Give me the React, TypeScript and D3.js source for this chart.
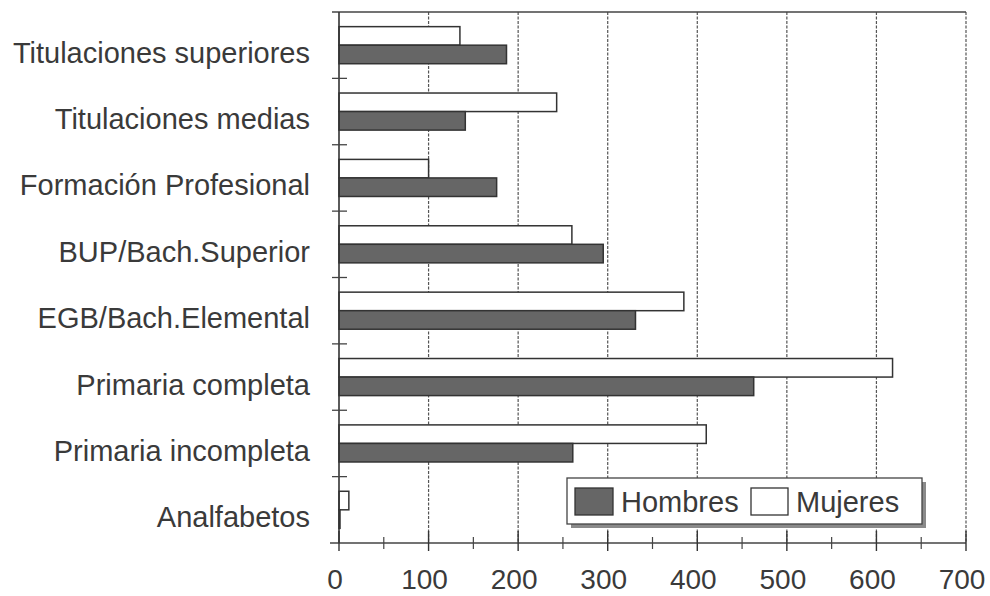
import React from "react";
import * as d3 from "d3";

const categories = [
  "Titulaciones superiores",
  "Titulaciones medias",
  "Formación Profesional",
  "BUP/Bach.Superior",
  "EGB/Bach.Elemental",
  "Primaria completa",
  "Primaria incompleta",
  "Analfabetos",
];
const hombres = [187, 141, 176, 295, 331, 463, 261, 1];
const mujeres = [135, 243, 100, 260, 385, 618, 410, 11];
const seriesNames = ["Mujeres", "Hombres"];
const xTicks = [0, 100, 200, 300, 400, 500, 600, 700];
const xMinorTicks = [50, 150, 250, 350, 450, 550, 650];

const W = 990;
const H = 596;
const M = { left: 339, right: 24, top: 12, bottom: 53 };
const FONT = "'Liberation Sans', Arial, Helvetica, sans-serif";
const TEXT = "#3a3a3a";
const DARK = "#666666";

export default function App() {
  const x = d3.scaleLinear().domain([0, 700]).range([M.left, W - M.right]);
  const y = d3.scaleBand().domain(categories).range([M.top, H - M.bottom]).padding(0);
  const sub = d3
    .scaleBand()
    .domain(seriesNames)
    .range([0, y.bandwidth()])
    .paddingInner(0)
    .paddingOuter(0.79);
  const y0 = M.top;
  const y1 = H - M.bottom;
  const rows = categories.map((c, i) => ({ c, h: hombres[i], m: mujeres[i] }));

  return (
    <svg
      width={W}
      height={H}
      style={{ position: "absolute", left: 0, top: 0, background: "#fff" }}
      fontFamily={FONT}
    >
      {/* vertical grid */}
      {xTicks.slice(1).map((t) => (
        <line
          key={"g" + t}
          x1={x(t)}
          x2={x(t)}
          y1={y0}
          y2={y1}
          stroke="#555"
          strokeWidth={1.2}
          strokeDasharray="3,1.5"
        />
      ))}
      {/* top frame */}
      <line x1={x(0) - 7} x2={x(700)} y1={y0} y2={y0} stroke="#444" strokeWidth={1.5} />
      {/* bars */}
      {rows.map((r) => (
        <g key={r.c}>
          <rect
            x={x(0)}
            y={(y(r.c) as number) + (sub("Mujeres") as number)}
            width={x(r.m) - x(0)}
            height={sub.bandwidth()}
            fill="#fff"
            stroke="#333"
            strokeWidth={1.5}
          />
          <rect
            x={x(0)}
            y={(y(r.c) as number) + (sub("Hombres") as number)}
            width={Math.max(x(r.h) - x(0), 1)}
            height={sub.bandwidth()}
            fill={DARK}
            stroke="#333"
            strokeWidth={1.5}
          />
        </g>
      ))}
      {/* left axis */}
      <line x1={x(0)} x2={x(0)} y1={y0} y2={y1} stroke="#333" strokeWidth={1.6} />
      {categories.slice(1).map((c) => (
        <line
          key={"t" + c}
          x1={x(0) - 7}
          x2={x(0) + 8}
          y1={y(c) as number}
          y2={y(c) as number}
          stroke="#444"
          strokeWidth={1.3}
        />
      ))}
      {categories.map((c) => (
        <text
          key={"l" + c}
          x={310}
          y={(y(c) as number) + y.bandwidth() / 2 + 17.5}
          textAnchor="end"
          fontSize={29}
          fill={TEXT}
        >
          {c}
        </text>
      ))}
      {/* bottom axis */}
      <line x1={x(0) - 9} x2={x(700)} y1={y1} y2={y1} stroke="#444" strokeWidth={1.3} />
      {xTicks.map((t) => (
        <line key={"mt" + t} x1={x(t)} x2={x(t)} y1={y1 - 12} y2={y1 + 8} stroke="#333" strokeWidth={1.4} />
      ))}
      {xMinorTicks.map((t) => (
        <line key={"nt" + t} x1={x(t)} x2={x(t)} y1={y1 - 6} y2={y1 + 6} stroke="#444" strokeWidth={1.2} />
      ))}
      {xTicks.map((t) => (
        <text key={"xl" + t} x={x(t) - 4} y={589} textAnchor="middle" fontSize={28} fill={TEXT}>
          {t}
        </text>
      ))}
      {/* legend */}
      <g>
        <rect x={571} y={482} width={355} height={46} fill="#8a8a8a" />
        <rect x={567} y={478} width={355} height={46} fill="#fff" stroke="#444" strokeWidth={1.3} />
        <rect x={575} y={488} width={38} height={27} fill={DARK} stroke="#333" strokeWidth={1.3} />
        <text x={621} y={512} fontSize={29} fill={TEXT}>
          Hombres
        </text>
        <rect x={751} y={488} width={37} height={27} fill="#fff" stroke="#333" strokeWidth={1.3} />
        <text x={796} y={512} fontSize={29} fill={TEXT}>
          Mujeres
        </text>
      </g>
    </svg>
  );
}
